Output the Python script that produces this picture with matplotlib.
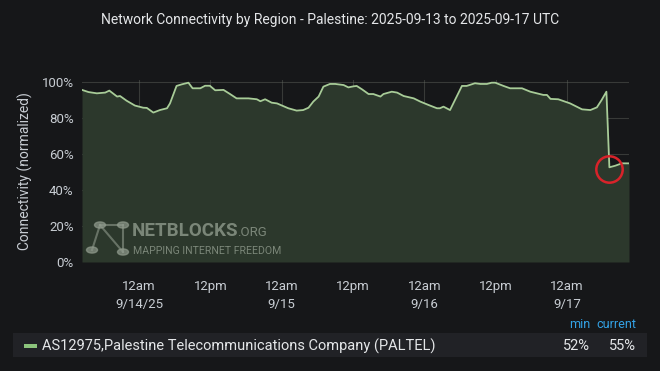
import numpy as np
import matplotlib
matplotlib.use('Agg')
import matplotlib.pyplot as plt
from matplotlib.patches import Circle, Rectangle

plt.rcParams['font.family'] = ['Roboto', 'DejaVu Sans']

# hours since 2025-09-13 00:00 UTC, connectivity in %
hours = [14.4, 15.5, 16.9, 18.3, 19.0, 20.3, 20.8, 21.9, 23.3, 24.7, 25.3, 26.4,
         27.5, 28.7, 29.2, 30.3, 31.2, 32.3, 33.0, 34.3, 35.1, 35.9, 36.8, 38.2,
         39.3, 40.4, 42.4, 43.8, 44.4, 45.2, 46.3, 47.2, 49.1, 50.5, 51.6, 52.5,
         53.3, 54.2, 55.0, 56.1, 57.0, 58.4, 59.2, 60.1, 60.6, 61.5, 62.6, 63.4,
         64.6, 65.1, 66.5, 67.4, 68.5, 70.2, 71.3, 72.7, 74.1, 74.6, 75.2, 76.3,
         78.3, 79.1, 80.5, 81.4, 82.5, 83.3, 83.9, 85.3, 86.4, 88.4, 89.8, 92.0,
         92.6, 93.2, 94.5, 96.5, 98.5, 99.9, 101.0, 101.8, 102.6, 103.1, 104.1,
         105.2, 106.4]
values = [95.6, 94.4, 93.7, 94.1, 95.2, 91.9, 92.2, 89.6, 86.9, 85.7, 85.6, 83.0,
          84.4, 85.4, 88.1, 97.8, 98.7, 99.6, 96.5, 96.5, 97.9, 97.9, 95.4, 95.6,
          93.3, 90.9, 90.9, 90.4, 89.3, 90.4, 88.5, 88.1, 85.4, 84.1, 84.4, 85.7,
          89.1, 91.9, 97.4, 98.9, 98.9, 98.3, 97.0, 97.6, 97.8, 95.9, 93.3, 93.3,
          91.9, 93.3, 94.6, 94.1, 92.2, 90.9, 89.1, 87.2, 85.4, 85.4, 86.3, 84.4,
          97.8, 97.8, 99.3, 98.9, 98.9, 99.6, 99.6, 97.8, 96.5, 96.5, 94.6, 92.8,
          92.8, 90.6, 90.4, 88.1, 84.8, 84.4, 85.9, 90.0, 94.6, 52.6, 53.5,
          54.8, 54.8]

tick_hours = [24, 36, 48, 60, 72, 84, 96]
tick_labels = ['12am\n9/14/25', '12pm', '12am\n9/15', '12pm', '12am\n9/16', '12pm', '12am\n9/17']
y_ticks = [0, 20, 40, 60, 80, 100]

series_name = 'AS12975,Palestine Telecommunications Company (PALTEL)'
stat_names = ['min', 'current']
stat_values = ['52%', '55%']
drop_hour = 103.1
drop_value = 52.6

bg = '#161719'
fig = plt.figure(figsize=(6.6, 3.71), dpi=100, facecolor=bg)
ax = fig.add_axes([82 / 660, 1 - 262 / 371, 547 / 660, 182 / 371])
ax.set_facecolor(bg)

ax.fill_between(hours, values, 0, color='#2c382c', lw=0, zorder=2)
ax.plot(hours, values, color='#a8cc98', lw=1.3, zorder=4)

ax.set_xlim(14.4, 106.4)
ax.set_ylim(0, 101.1)
ax.set_yticks(y_ticks)
ax.set_yticklabels([f'{v}%' for v in y_ticks])
ax.set_xticks(tick_hours)
ax.set_xticklabels(tick_labels, linespacing=1.45)
ax.grid(True, color='#62665f', alpha=0.45, lw=0.8, zorder=3)
ax.tick_params(colors='#c8cdd3', length=0, labelsize=9.5, pad=6)
ax.tick_params(axis='x', pad=13)
for s in ax.spines.values():
    s.set_visible(False)
ax.set_ylabel('Connectivity (normalized)', color='#c8cdd3', fontsize=10, labelpad=6)

# red ring round the drop
ax.plot([drop_hour], [drop_value - 0.8], marker='o', ms=19, mfc='none',
        mec='#d8232a', mew=1.8, zorder=6)

fig.text(0.5, 1 - 20 / 371, 'Network Connectivity by Region - Palestine: 2025-09-13 to 2025-09-17 UTC',
         ha='center', va='center', color='#e4e6e8', fontsize=10)

# watermark
wm = '#8f9a8c'
logo = [(100, 225), (123, 225), (92, 250), (123, 252)]
for a, b in [(0, 1), (0, 2), (0, 3), (1, 3)]:
    fig.add_artist(plt.Line2D([logo[a][0] / 660, logo[b][0] / 660],
                              [1 - logo[a][1] / 371, 1 - logo[b][1] / 371],
                              color=wm, lw=1.5, alpha=0.6))
for cx, cy in logo:
    fig.add_artist(Circle((cx / 660, 1 - cy / 371), 5.5 / 660, color=wm, alpha=0.7,
                          transform=fig.transFigure))
fig.text(132 / 660, 1 - 231 / 371, 'NETBLOCKS', weight='bold', fontsize=13.5,
         color=wm, alpha=0.8, va='center')
fig.text(237 / 660, 1 - 233 / 371, '.ORG', fontsize=9.5, color=wm, alpha=0.8, va='center')
fig.text(133 / 660, 1 - 251 / 371, 'MAPPING INTERNET FREEDOM', fontsize=7.6,
         color=wm, alpha=0.8, va='center')

# legend table
fig.add_artist(Rectangle((13 / 660, 1 - 357 / 371), 634 / 660, 24 / 371,
                         transform=fig.transFigure, color='#212226', lw=0))
fig.add_artist(Rectangle((24 / 660, 1 - 348 / 371), 13 / 660, 4 / 371,
                         transform=fig.transFigure, color='#8cc47c', lw=0))
fig.text(42 / 660, 1 - 346 / 371, series_name, color='#e4e6e8', fontsize=10.5, va='center')
for i, (name, val) in enumerate(zip(stat_names, stat_values)):
    x = [590, 636][i] / 660
    fig.text(x, 1 - 325 / 371, name, color='#33a2e5', fontsize=9, ha='right', va='center')
    fig.text(x, 1 - 346 / 371, val, color='#e4e6e8', fontsize=10.5, ha='right', va='center')

fig.savefig('out.png', dpi=100, facecolor=bg)
